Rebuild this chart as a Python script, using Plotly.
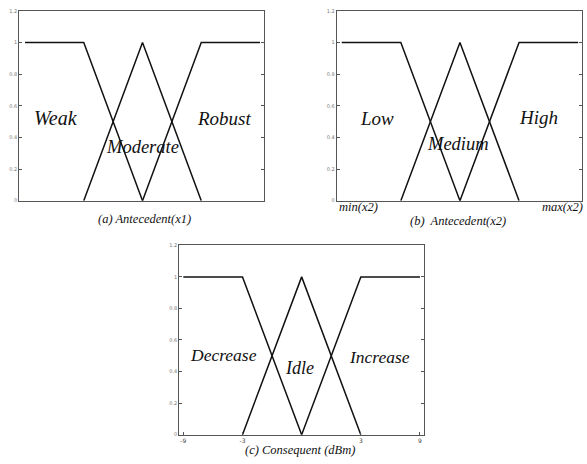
import plotly.graph_objects as go

# membership functions, as (positions, degrees) on evenly spaced breakpoints
low_x = [0, 1, 2]
low_y = [1, 1, 0]
mid_x = [1, 2, 3]
mid_y = [0, 1, 0]
high_x = [2, 3, 4]
high_y = [0, 1, 1]

labels_a = ["Weak", "Moderate", "Robust"]
labels_b = ["Low", "Medium", "High"]
labels_c = ["Decrease", "Idle", "Increase"]

y_ticks = [0, 0.2, 0.4, 0.6, 0.8, 1, 1.2]
y_ticktext = ["0", "0.2", "0.4", "0.6", "0.8", "1", "1.2"]
c_tickvals = [0, 1, 3, 4]
c_ticktext = ["-9", "-3", "3", "9"]

captions = ["(a) Antecedent(x1)", "(b)  Antecedent(x2)", "(c) Consequent (dBm)"]

W, H = 587, 464
SCRIPT = dict(family="Liberation Serif", color="#111", style="italic")


def px_x(v):
    return v / W


def px_y(v):
    return 1 - v / H


panels = [
    # axes suffix, x domain px, y domain px, x range
    ("", (19.3, 264.3), (8.0, 200.3), [-0.097, 4.073]),
    ("2", (336.7, 581.7), (8.0, 200.3), [-0.085, 4.06]),
    ("3", (179.3, 424.0), (245.5, 437.3), [-0.068, 4.068]),
]

fig = go.Figure()

for suffix, xd, yd, xr in panels:
    for xs, ys in ((low_x, low_y), (mid_x, mid_y), (high_x, high_y)):
        fig.add_trace(go.Scatter(
            x=xs, y=ys, mode="lines",
            line=dict(color="#111", width=1.5),
            xaxis="x" + suffix, yaxis="y" + suffix,
            showlegend=False, hoverinfo="skip",
        ))
    xkey = "xaxis" + suffix
    ykey = "yaxis" + suffix
    fig.layout[xkey] = dict(
        domain=[px_x(xd[0]), px_x(xd[1])], range=xr, anchor="y" + suffix,
        showgrid=False, zeroline=False, showline=True, mirror=True,
        linecolor="#555", linewidth=1.2,
        ticks="inside", ticklen=3, tickcolor="#555",
        tickvals=[] if suffix != "3" else c_tickvals,
        ticktext=[] if suffix != "3" else c_ticktext,
        tickfont=dict(size=6, color="#444", family="DejaVu Sans"),
        fixedrange=True,
    )
    fig.layout[ykey] = dict(
        domain=[px_y(yd[1]), px_y(yd[0])], range=[0, 1.2], anchor="x" + suffix,
        showgrid=False, zeroline=False, showline=True, mirror="allticks",
        linecolor="#555", linewidth=1.2,
        ticks="inside", ticklen=3, tickcolor="#555",
        tickvals=y_ticks, ticktext=y_ticktext,
        tickfont=dict(size=5, color="#777", family="DejaVu Sans"),
        fixedrange=True,
    )

# fuzzy set names, positioned in pixels
names = [
    (labels_a[0], 56, 117, 20), (labels_a[1], 142, 146, 18.5), (labels_a[2], 224, 117, 19),
    (labels_b[0], 377, 117, 19), (labels_b[1], 458, 143, 18.5), (labels_b[2], 538, 116, 19),
    (labels_c[0], 223, 357, 17.5), (labels_c[1], 299, 370, 18), (labels_c[2], 380, 359, 17.5),
]
for text, x, y, size in names:
    fig.add_annotation(x=px_x(x), y=px_y(y), xref="paper", yref="paper",
                       text=text, showarrow=False, xanchor="center", yanchor="middle",
                       font=dict(size=size, **SCRIPT))

cap_pos = [(144, 219), (458, 221), (300, 453)]
for text, (x, y) in zip(captions, cap_pos):
    fig.add_annotation(x=px_x(x), y=px_y(y), xref="paper", yref="paper",
                       text=text, showarrow=False, xanchor="center", yanchor="middle",
                       font=dict(size=12.5, **SCRIPT))

fig.add_annotation(x=px_x(337), y=px_y(207), xref="paper", yref="paper",
                   text="min(x2)", showarrow=False, xanchor="left", yanchor="middle",
                   font=dict(size=12.5, **SCRIPT))
fig.add_annotation(x=px_x(585), y=px_y(207), xref="paper", yref="paper",
                   text="max(x2)", showarrow=False, xanchor="right", yanchor="middle",
                   font=dict(size=12.5, **SCRIPT))

fig.update_layout(
    width=W, height=H,
    margin=dict(l=0, r=0, t=0, b=0),
    paper_bgcolor="white", plot_bgcolor="white",
)

# drop the browser's default page margin so the figure sits at the window corner
fig.write_html("out.html", config={"displayModeBar": False},
               post_script="document.body.style.margin='0';")
